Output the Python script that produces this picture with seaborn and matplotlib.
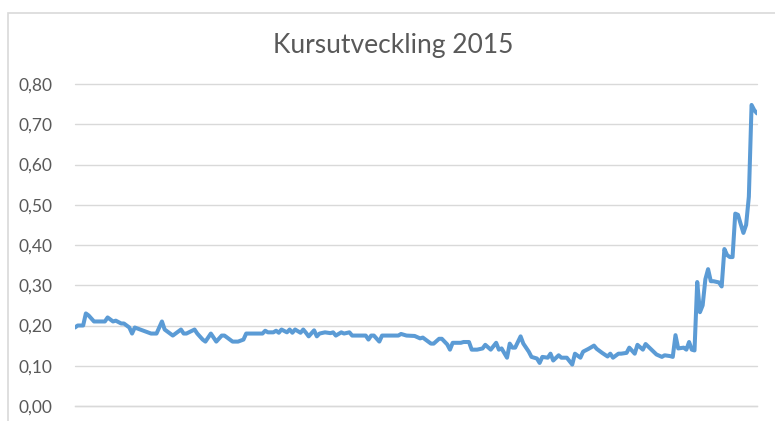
import numpy as np
import pandas as pd
import matplotlib
matplotlib.use("Agg")
import matplotlib.pyplot as plt
from matplotlib.patches import Rectangle
from matplotlib.ticker import FuncFormatter
import seaborn as sns

# handelsdag i 2015 och kurs (SEK)
dag = [0, 1, 3, 4, 5, 7, 10, 11, 12, 14, 15, 17, 18, 20, 21, 22, 24, 26, 28, 30,
       32, 33, 34, 36, 37, 39, 40, 41, 44, 45, 47, 48, 50, 52, 54, 55, 57, 58, 60, 62,
       63, 65, 69, 70, 71, 73, 74, 75, 76, 78, 79, 80, 81, 83, 84, 85, 86, 88, 89, 90,
       92, 94, 95, 96, 98, 99, 101, 102, 105, 107, 108, 109, 110, 112, 113, 116, 119, 120, 122, 125,
       127, 128, 129, 131, 132, 134, 135, 137, 138, 139, 142, 143, 145, 146, 148, 150, 151, 153, 155, 156,
       157, 159, 160, 161, 162, 164, 165, 167, 168, 170, 171, 172, 174, 175, 176, 178, 179, 181, 183, 184,
       186, 187, 189, 191, 192, 194, 196, 197, 198, 200, 201, 203, 204, 206, 207, 209, 210, 212, 214, 216,
       217, 219, 220, 221, 222, 224, 225, 226, 227, 228, 229, 230, 231, 232, 233, 234, 235, 237, 238, 239,
       240, 241, 242, 243, 244, 245, 246, 247, 248, 249, 250, 251]
kurs = [0.195, 0.200, 0.200, 0.230, 0.225, 0.210, 0.210, 0.210, 0.220, 0.210, 0.212, 0.205, 0.205, 0.195, 0.180, 0.195, 0.190, 0.185, 0.180, 0.180,
        0.210, 0.190, 0.185, 0.175, 0.180, 0.190, 0.180, 0.180, 0.190, 0.180, 0.165, 0.160, 0.180, 0.160, 0.175, 0.175, 0.165, 0.160, 0.160, 0.165,
        0.180, 0.180, 0.180, 0.187, 0.183, 0.183, 0.187, 0.182, 0.190, 0.183, 0.190, 0.182, 0.190, 0.182, 0.190, 0.182, 0.173, 0.188, 0.173, 0.180,
        0.183, 0.181, 0.183, 0.175, 0.183, 0.180, 0.183, 0.175, 0.175, 0.175, 0.165, 0.175, 0.175, 0.160, 0.175, 0.175, 0.175, 0.179, 0.175, 0.174,
        0.168, 0.170, 0.165, 0.155, 0.155, 0.167, 0.167, 0.153, 0.140, 0.157, 0.157, 0.159, 0.159, 0.140, 0.140, 0.143, 0.152, 0.140, 0.157, 0.140,
        0.143, 0.120, 0.155, 0.145, 0.145, 0.173, 0.155, 0.135, 0.122, 0.118, 0.107, 0.122, 0.120, 0.130, 0.113, 0.126, 0.120, 0.120, 0.103, 0.130,
        0.120, 0.135, 0.142, 0.150, 0.142, 0.132, 0.123, 0.130, 0.120, 0.130, 0.130, 0.132, 0.145, 0.130, 0.152, 0.140, 0.154, 0.141, 0.128, 0.122,
        0.126, 0.124, 0.122, 0.176, 0.143, 0.145, 0.140, 0.159, 0.140, 0.138, 0.308, 0.233, 0.250, 0.315, 0.340, 0.310, 0.310, 0.307, 0.297, 0.390,
        0.375, 0.370, 0.370, 0.478, 0.475, 0.452, 0.430, 0.450, 0.520, 0.748, 0.735, 0.727]

titel = "Kursutveckling 2015"
yticks = [0.0, 0.1, 0.2, 0.3, 0.4, 0.5, 0.6, 0.7, 0.8]

df = pd.DataFrame({"dag": dag, "kurs": kurs})

sns.set_style("white")
plt.rcParams["font.family"] = ["Lato", "DejaVu Sans"]

fig = plt.figure(figsize=(7.75, 4.21), dpi=100)
ax = fig.add_axes([75 / 775, 1 - 406 / 421, (757 - 75) / 775, (406 - 84) / 421])

sns.lineplot(data=df, x="dag", y="kurs", ax=ax, color="#5B9BD5", linewidth=2.9,
             estimator=None, solid_joinstyle="round", solid_capstyle="round")

ax.set_xlim(min(dag), max(dag))
ax.set_ylim(0, 0.8)
ax.set_yticks(yticks)
ax.yaxis.set_major_formatter(FuncFormatter(lambda v, p: f"{v:.2f}".replace(".", ",")))
ax.set_xticks([])
ax.set_xlabel("")
ax.set_ylabel("")
ax.tick_params(axis="y", length=0, pad=16, labelsize=12.5, labelcolor="#595959")

ax.grid(axis="y", color="#D9D9D9", linewidth=1)
for gl in ax.get_ygridlines():
    gl.set_clip_on(False)
for s in ["top", "right", "left"]:
    ax.spines[s].set_visible(False)
ax.spines["bottom"].set_color("#D9D9D9")
ax.spines["bottom"].set_linewidth(1)

fig.text(393 / 775, 1 - 45 / 421, titel, ha="center", va="center",
         fontsize=19, color="#595959")

# diagramramen
fig.patches.append(Rectangle((8 / 775, -0.2), 1.2, 1 - 13 / 421 + 0.2, transform=fig.transFigure,
                             fill=False, edgecolor="#D9D9D9", linewidth=1.2))

fig.savefig("out.png", dpi=100)
